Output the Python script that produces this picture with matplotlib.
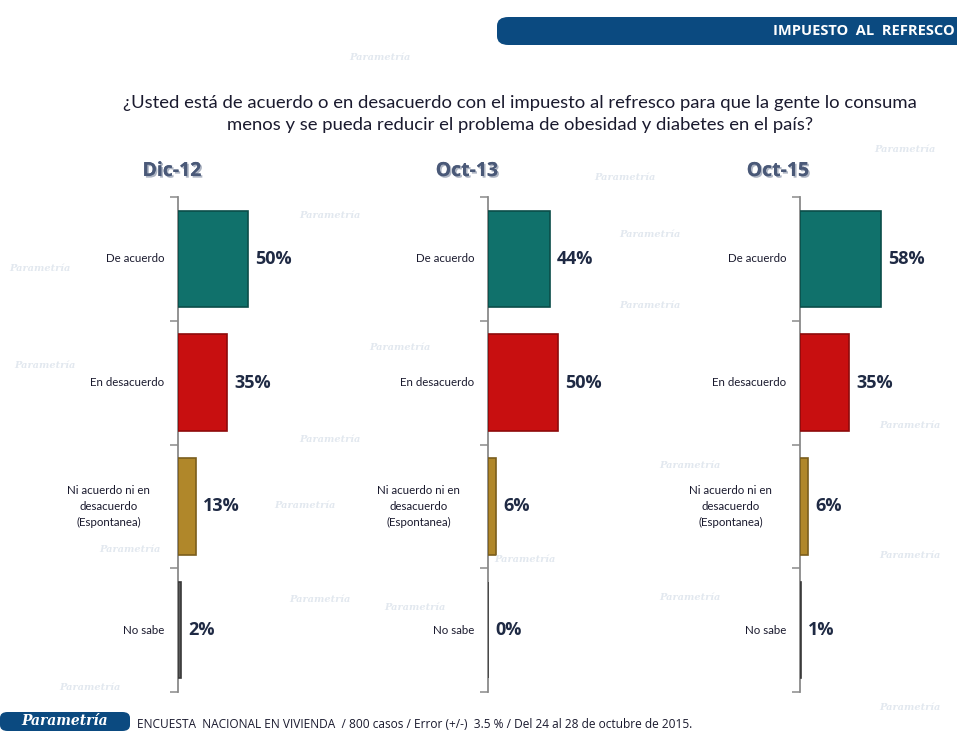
import matplotlib
matplotlib.use("Agg")
import matplotlib.pyplot as plt
from matplotlib.patches import FancyBboxPatch
import matplotlib.patheffects as pe

plt.rcParams['font.family'] = ['Lato', 'DejaVu Sans']

categories = ["De acuerdo", "En desacuerdo", "Ni acuerdo ni en\ndesacuerdo\n(Espontanea)", "No sabe"]
periods = ["Dic-12", "Oct-13", "Oct-15"]
values_dic12 = [50, 35, 13, 2]
values_oct13 = [44, 50, 6, 0]
values_oct15 = [58, 35, 6, 1]
series = [values_dic12, values_oct13, values_oct15]
colors = ["#10716B", "#C80F10", "#B0872A", "#5A5A5A"]
edge_colors = ["#0B4D49", "#8E0A0B", "#7A5D1C", "#3A3A3A"]

title = ("¿Usted está de acuerdo o en desacuerdo con el impuesto al refresco para que la gente lo consuma\n"
         "menos y se pueda reducir el problema de obesidad y diabetes en el país?")
header = "IMPUESTO  AL  REFRESCO"
footer = "ENCUESTA  NACIONAL EN VIVIENDA  / 800 casos / Error (+/-)  3.5 % / Del 24 al 28 de octubre de 2015."
watermark = "Parametría"

W, H = 957, 733
fig = plt.figure(figsize=(W / 100, H / 100), dpi=100)
fig.patch.set_facecolor("white")

def fx(px):
    return px / W

def fy(py):
    return 1 - py / H

# faint watermark texts (placed in empty areas)
wm_color = "#E2E8EF"
for (wx, wy) in [(380, 58), (330, 215), (625, 178), (40, 268), (650, 305), (400, 348),
                 (45, 366), (305, 505), (130, 550), (525, 560), (690, 466), (690, 598),
                 (415, 608), (905, 150), (910, 425), (910, 555), (910, 708), (90, 688),
                 (650, 235), (330, 440), (320, 600)]:
    fig.text(fx(wx), fy(wy), watermark, color=wm_color, fontsize=7, style="italic",
             fontweight="bold", ha="center", va="center", zorder=0,
             family=["DejaVu Serif"])

# header band
hdr = FancyBboxPatch((fx(497), fy(45)), fx(520), fy(17) - fy(45),
                     boxstyle="round,pad=0,rounding_size=0.012",
                     transform=fig.transFigure, facecolor="#0B4A80", edgecolor="none", zorder=1)
fig.patches.append(hdr)
fig.text(fx(955), fy(31), header, color="white", fontsize=10.5, fontweight="bold",
         ha="right", va="center", family=["Open Sans", "DejaVu Sans"])

# title
fig.text(fx(520), fy(114), title, ha="center", va="center", fontsize=13.3,
         color="#1A1A2E", linespacing=1.5)

panel_left = [178, 488, 800]
title_x = [172, 467, 778]
axis_top, axis_bottom = 197, 692
px_per_unit = 1.4

for i, (vals, per) in enumerate(zip(series, periods)):
    left = panel_left[i]
    ax = fig.add_axes([fx(left), fy(axis_bottom), fx(100 * px_per_unit), fy(axis_top) - fy(axis_bottom)])
    ax.set_facecolor("none")
    ypos = list(range(len(categories)))
    for j, v in enumerate(vals):
        ax.barh(ypos[j], v, height=0.78, color=colors[j], edgecolor=edge_colors[j],
                linewidth=1.2, zorder=3)
        ax.text(v + 7 / px_per_unit, ypos[j], f"{v}%", ha="left", va="center",
                fontsize=13, fontweight="bold", color="#1F2A44",
                family=["Open Sans", "DejaVu Sans"])
    ax.set_xlim(0, 100)
    ax.set_ylim(len(categories) - 0.5, -0.5)
    for s in ["top", "right", "bottom"]:
        ax.spines[s].set_visible(False)
    ax.spines["left"].set_color("#8A8A8A")
    ax.spines["left"].set_linewidth(1.3)
    ax.set_xticks([])
    ax.set_yticks([k - 0.5 for k in range(len(categories) + 1)])
    ax.set_yticklabels([])
    ax.tick_params(axis="y", direction="out", length=6, width=1.1, color="#8A8A8A")
    for j, c in enumerate(categories):
        gap = 28 if "\n" in c else 14
        ax.text(-gap / px_per_unit, ypos[j], c, ha="right", multialignment="center",
                va="center", fontsize=8.3, color="#1A1A2E", linespacing=1.55)
    # panel title
    fig.text(fx(title_x[i]), fy(171), per, ha="center", va="center", fontsize=14,
             fontweight="bold", color="#4A5978", family=["Open Sans", "DejaVu Sans"],
             path_effects=[pe.withSimplePatchShadow(offset=(1.2, -1.2), shadow_rgbFace="#9AA3B5", alpha=0.8),
                           pe.Normal()])

# footer logo
logo = FancyBboxPatch((fx(0), fy(731)), fx(130), fy(712) - fy(731),
                      boxstyle="round,pad=0,rounding_size=0.008",
                      transform=fig.transFigure, facecolor="#0B4A80", edgecolor="none")
fig.patches.append(logo)
fig.text(fx(65), fy(721), watermark, color="white", fontsize=10, fontweight="bold",
         style="italic", ha="center", va="center", family=["DejaVu Serif"])
fig.text(fx(137), fy(724), footer, color="#1A1A2E", fontsize=8.6, ha="left", va="center",
         family=["Open Sans", "DejaVu Sans"])

fig.savefig("out.png", dpi=100, facecolor="white")
